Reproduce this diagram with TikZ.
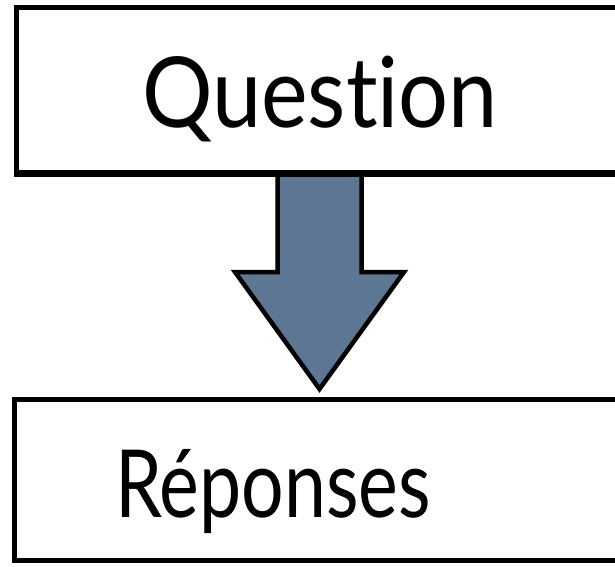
\documentclass[tikz,border=0pt]{standalone}
\usepackage{fontspec}
\setmainfont[RawFeature=-liga]{Lato}
\usetikzlibrary{calc}
\definecolor{arrowfill}{RGB}{92,118,148}
\tikzset{
  box/.style={draw=black, line width=5pt, rectangle, inner sep=0pt, anchor=south west, minimum width=640pt},
  lbl/.style={anchor=base, inner sep=0pt},
  bigarrow/.style={draw=black, line width=4.5pt, fill=arrowfill, line join=miter}
}
\begin{document}
\begin{tikzpicture}[x=1pt,y=1pt]
\useasboundingbox (0,0) rectangle (615,566);
\node[box, minimum height=164.8pt] (q) at (13.5,391.5) {};
\node[box, minimum height=161pt] (r) at (12,3) {};
\node[lbl, font=\fontsize{98}{110}\selectfont] (qt) at (320,438) {\scalebox{0.9}[1]{Question}};
\node[lbl, font=\fontsize{94}{105}\selectfont] (rt) at (273,49) {\scalebox{0.8}[1]{Réponses}};
\coordinate (top) at (319.5,391.5);
\coordinate (tip) at (319.5,177);
\draw[bigarrow] ($(top)+(-42,0)$) -- ($(top)+(-42,-97.5)$) -- ($(top)+(-84.5,-97.5)$) -- (tip)
  -- ($(top)+(84.5,-97.5)$) -- ($(top)+(42,-97.5)$) -- ($(top)+(42,0)$);
\draw[line width=5pt] (q.south west) -- (q.south east);
\end{tikzpicture}
\end{document}
